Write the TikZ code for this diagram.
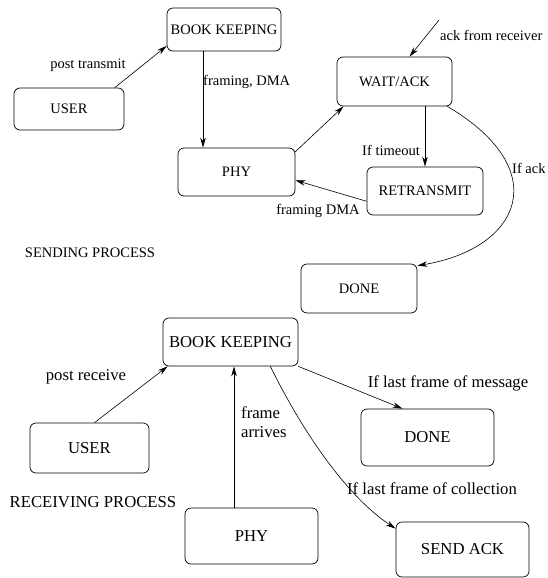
\documentclass[tikz,border=0pt]{standalone}
\usepackage{fontspec}
\setmainfont{Liberation Serif}
\usetikzlibrary{positioning,calc,arrows.meta}

\begin{document}
\begin{tikzpicture}[x=1pt, y=-1pt,
% Node styles
 box/.style={draw, rounded corners=6pt, line width=0.7pt, inner sep=2pt,
 font=\fontsize{14.5}{16}\selectfont, align=center},
 bigbox/.style={box, font=\fontsize{16.7}{19}\selectfont},
% Edge styles
 edge/.style={draw, line width=0.6pt, -{Stealth[length=10pt, width=5.5pt]}},
% Label styles
 lbl/.style={inner sep=1pt, font=\fontsize{14.5}{16}\selectfont},
 biglbl/.style={inner sep=1pt, font=\fontsize{16.7}{19}\selectfont, align=left}
]
\useasboundingbox (0,0) rectangle (547,578);

% sending process
\node[box, minimum width=114pt, minimum height=43pt] (bk1) at (224,29.5) {BOOK KEEPING};
\node[box, minimum width=110pt, minimum height=42pt] (user1) at (69,109) {USER};
\node[box, minimum width=117pt, minimum height=48pt] (phy1) at (236.5,172) {PHY};
\node[box, minimum width=115pt, minimum height=49pt] (wait) at (394.5,81.5) {WAIT/ACK};
\node[box, minimum width=116pt, minimum height=48pt] (retx) at (425,191) {RETRANSMIT};
\node[box, minimum width=116pt, minimum height=49pt] (done1) at (359,288.5) {DONE};

\coordinate (ackin) at (439,20);

\draw[edge] (user1.25.5) -- (bk1.196);
\draw[edge] ([xshift=-21pt]bk1.south) -- ([xshift=-21pt]bk1.south |- phy1.north);
\draw[edge] (phy1.19) -- (wait.206);
\draw[edge] (wait.south -| retx.north) -- (retx.north);
\draw[edge] (retx.190.7) -- (phy1.352);
\draw[edge] ([xshift=-5pt]wait.south east) .. controls +(108,64) and +(103,-17) .. ([yshift=-2pt]done1.north east);
\draw[edge] (ackin) -- ([xshift=15pt]wait.north);

\node[lbl] (postTx) at (88,65) {post transmit};
\node[lbl, anchor=west] (framing) at (202,82) {framing, DMA};
\node[lbl, anchor=east] (timeout) at (421,150) {If timeout};
\node[lbl] (framingDMA) at (318,211) {framing DMA};
\node[lbl, anchor=west] (ifack) at (511,168) {If ack};
\node[lbl, anchor=west] (ackrx) at (439,35) {ack from receiver};
\node[lbl] (sending) at (90,253) {SENDING PROCESS};

% receiving process
\node[bigbox, minimum width=135pt, minimum height=48pt] (bk2) at (230.5,342) {BOOK KEEPING};
\node[bigbox, minimum width=119pt, minimum height=50pt] (user2) at (89.5,448) {USER};
\node[bigbox, minimum width=133pt, minimum height=56pt] (phy2) at (251.5,536) {PHY};
\node[bigbox, minimum width=133pt, minimum height=57pt] (done2) at (427.5,437.5) {DONE};
\node[bigbox, minimum width=133pt, minimum height=55pt] (sendack) at (462.5,549.5) {SEND ACK};

\draw[edge] ([xshift=5pt]user2.north) -- ([xshift=5pt]bk2.south west);
\draw[edge] ([xshift=-17.5pt]phy2.north) -- ([xshift=-17.5pt]phy2.north |- bk2.south);
\draw[edge] (bk2.south east) -- ([xshift=-25pt]done2.north);
\draw[edge] ([xshift=-28pt]bk2.south east) .. controls +(31,63) and +(-50,-33) .. ([yshift=-7pt]sendack.north west);

\node[biglbl] (postRx) at (86,377) {post receive};
\node[biglbl, anchor=west] (arrives) at (240,422) {frame\\arrives};
\node[biglbl] (lastmsg) at (448,383) {If last frame of message};
\node[biglbl] (lastcoll) at (432,489) {If last frame of collection};
\node[biglbl] (receiving) at (93,502) {RECEIVING PROCESS};

\end{tikzpicture}
\end{document}
